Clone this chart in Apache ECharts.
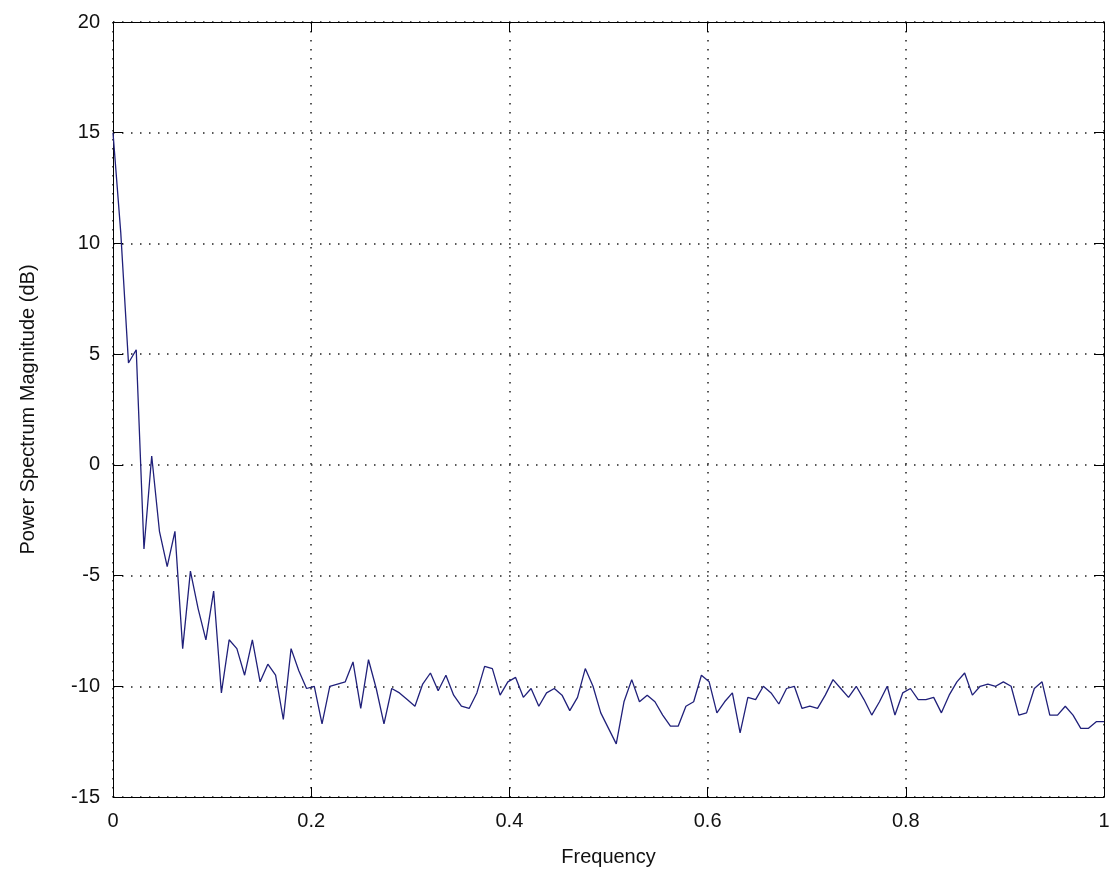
<!DOCTYPE html>
<html>
<head>
<meta charset="utf-8">
<script src="https://cdn.jsdelivr.net/npm/echarts@6/dist/echarts.min.js"></script>
<style>
* { padding: 0; margin: 0; }
body { background: #fff; }
</style>
</head>
<body>
<div id="chart" style="width: 1115px; height: 882px"></div>
<script>
// frequency step between samples (normalized frequency 0..1)
const freqStep = 1 / 128;

// power spectrum magnitude in dB
const magnitude = [
  15.0, 10.5, 4.6, 5.2, -3.8, 0.4, -3.0, -4.6, -3.0, -8.3,
  -4.8, -6.5, -7.9, -5.7, -10.3, -7.9, -8.3, -9.5, -7.9, -9.8,
  -9.0, -9.5, -11.5, -8.3, -9.3, -10.1, -10.0, -11.7, -10.0, -9.9,
  -9.8, -8.9, -11.0, -8.8, -10.1, -11.7, -10.1, -10.3, -10.6, -10.9,
  -9.9, -9.4, -10.2, -9.5, -10.4, -10.9, -11.0, -10.3, -9.1, -9.2,
  -10.4, -9.8, -9.6, -10.5, -10.1, -10.9, -10.3, -10.1, -10.4, -11.1,
  -10.5, -9.2, -10.0, -11.2, -11.9, -12.6, -10.7, -9.7, -10.7, -10.4,
  -10.7, -11.3, -11.8, -11.8, -10.9, -10.7, -9.5, -9.8, -11.2, -10.7,
  -10.3, -12.1, -10.5, -10.6, -10.0, -10.3, -10.8, -10.1, -10.0, -11.0,
  -10.9, -11.0, -10.4, -9.7, -10.1, -10.5, -10.0, -10.6, -11.3, -10.7,
  -10.0, -11.3, -10.3, -10.1, -10.6, -10.6, -10.5, -11.2, -10.4, -9.8,
  -9.4, -10.4, -10.0, -9.9, -10.0, -9.8, -10.0, -11.3, -11.2, -10.1,
  -9.8, -11.3, -11.3, -10.9, -11.3, -11.9, -11.9, -11.6, -11.6
];

const xTitle = "Frequency";
const yTitle = "Power Spectrum Magnitude (dB)";

const font = "Liberation Sans, Arial, sans-serif";

const chart = echarts.init(document.getElementById("chart"));

const gridLine = {
  show: true,
  lineStyle: { color: "#222", width: 1.5, type: [1.5, 7.5] },
};
const boxLine = { show: true, onZero: false, lineStyle: { color: "#000", width: 1 } };
const insideTick = { show: true, inside: true, length: 10, lineStyle: { color: "#000", width: 1 } };

chart.setOption({
  animation: false,
  backgroundColor: "#fff",
  grid: { left: 113, right: 11, top: 22, bottom: 85 },
  xAxis: [
    {
      type: "value",
      min: 0,
      max: 1,
      interval: 0.2,
      name: xTitle,
      nameLocation: "middle",
      nameGap: 50,
      nameTextStyle: { fontFamily: font, fontSize: 20, color: "#111" },
      axisLine: boxLine,
      axisTick: insideTick,
      axisLabel: { fontFamily: font, fontSize: 20, color: "#111", margin: 14 },
      splitLine: gridLine,
    },
    {
      type: "value",
      position: "top",
      min: 0,
      max: 1,
      interval: 0.2,
      axisLine: boxLine,
      axisTick: insideTick,
      axisLabel: { show: false },
      splitLine: { show: false },
    },
  ],
  yAxis: [
    {
      type: "value",
      min: -15,
      max: 20,
      interval: 5,
      name: yTitle,
      nameLocation: "middle",
      nameGap: 75,
      nameTextStyle: { fontFamily: font, fontSize: 20, color: "#111" },
      axisLine: boxLine,
      axisTick: insideTick,
      axisLabel: { fontFamily: font, fontSize: 20, color: "#111", margin: 13 },
      splitLine: gridLine,
    },
    {
      type: "value",
      position: "right",
      min: -15,
      max: 20,
      interval: 5,
      axisLine: boxLine,
      axisTick: insideTick,
      axisLabel: { show: false },
      splitLine: { show: false },
    },
  ],
  series: [
    {
      type: "line",
      data: magnitude.map((v, i) => [i * freqStep, v]),
      showSymbol: false,
      lineStyle: { color: "#20207a", width: 1.3 },
    },
  ],
});
</script>
</body>
</html>
